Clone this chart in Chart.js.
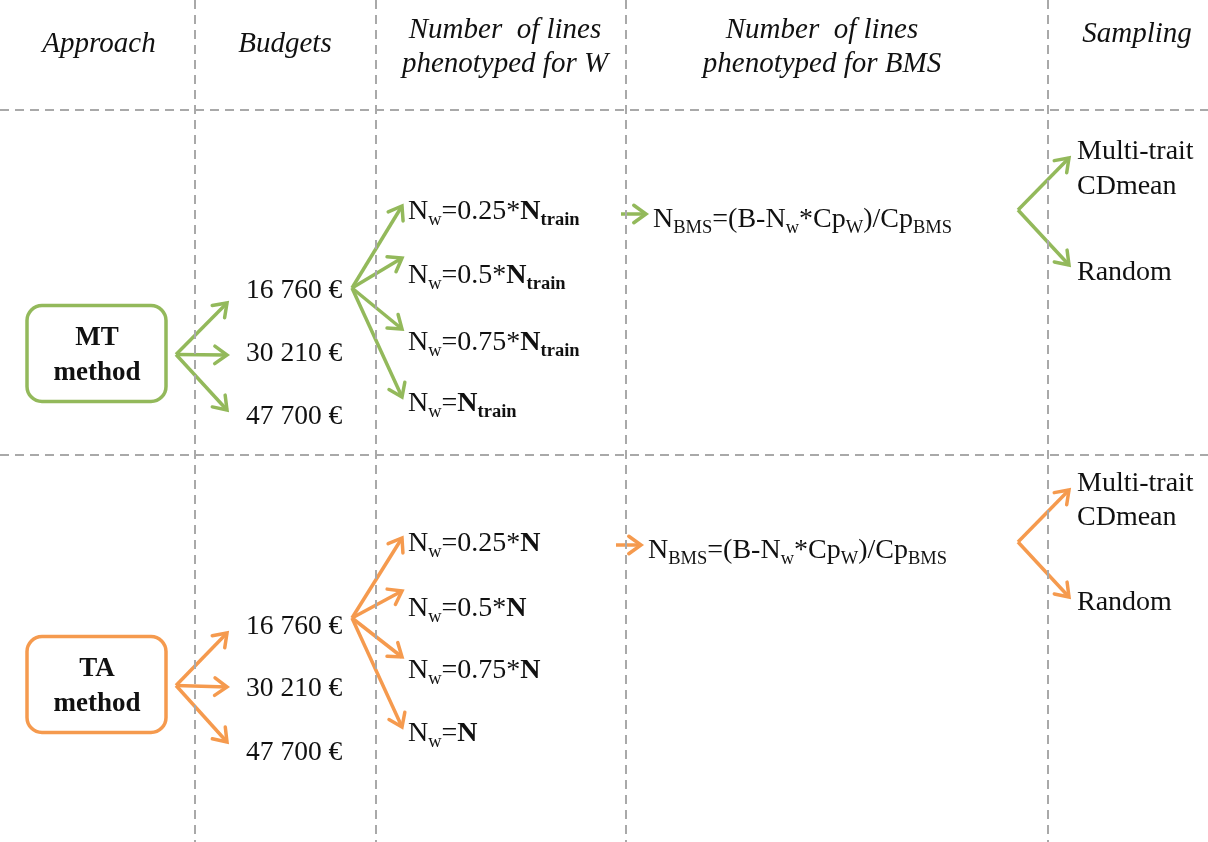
<!DOCTYPE html>
<html>
<head>
<meta charset="utf-8">
<script src="https://cdn.jsdelivr.net/npm/chart.js@4.4.1/dist/chart.umd.min.js"></script>
<style>
  html, body { margin: 0; padding: 0; background: #fff; }
  #wrap { width: 1208px; height: 842px; }
</style>
</head>
<body>
<div id="wrap"><canvas id="myChart"></canvas></div>
<script>
const W = 1208, H = 842;
const SERIF = '"Liberation Serif", "Times New Roman", serif';

// content
const headerTitles = [["Approach"], ["Budgets"], ["Number  of lines", "phenotyped for W"], ["Number  of lines", "phenotyped for BMS"], ["Sampling"]];
const approaches = ["MT", "TA"];
const approachColors = ["#93b95b", "#f59a4e"];
const budgets = ["16 760 €", "30 210 €", "47 700 €"];
const nwFractions = ["0.25*", "0.5*", "0.75*", ""];
const nwSubscript = ["train", ""];
const samplingLabels = [["Multi-trait", "CDmean"], ["Random"]];

// layout, in scale units (= reference pixels)
const dividerX = [195, 376, 626, 1048];
const dividerY = [110, 455];
const headerX = [99, 285, 505, 822, 1137];
const headerY = [[42], [42], [28, 62], [28, 62], [32]];
const boxY = [353.5, 684.5];
const approachTipY = [[303, 355, 410], [633, 687, 742]];
const budgetY = [[289, 352, 415], [625, 687, 751]];
const budgetOriginY = [288, 618];
const nwY = [[210, 274, 341, 402], [542, 607, 669, 732]];
const nwTipOff = [-4, -16, -12, -5];
const bmsY = [218, 549];
const bmsArrowX = [[621, 646], [616, 641]];
const samplingOriginY = [210, 542];
const samplingTipY = [[158, 265], [490, 597]];
const samplingY = [[[150, 185], [271]], [[482, 516], [601]]];

const dashStyle = { borderColor: "#a9a9a9", borderWidth: 2, borderDash: [9, 6] };

function seg(x1, y1, x2, y2, extra) {
  return Object.assign({
    type: "line",
    data: [{ x: x1, y: y1 }, { x: x2, y: y2 }],
    pointRadius: 0,
    fill: false,
    tension: 0,
  }, extra);
}

const datasets = [];
dividerX.forEach(x => datasets.push(seg(x, 0, x, H, dashStyle)));
dividerY.forEach(y => datasets.push(seg(0, y, W, y, dashStyle)));

const labels = [];
headerTitles.forEach((lines, i) => {
  lines.forEach((t, j) => labels.push({ x: headerX[i], y: headerY[i][j], align: "center", size: 29, segs: [{ t: t, i: 1 }] }));
});

approaches.forEach((name, k) => {
  const c = approachColors[k];
  const arrow = { borderColor: c, borderWidth: 3.5, arrow: true };
  const by = boxY[k];
  // approach -> budgets
  budgets.forEach((b, j) => {
    datasets.push(seg(176, by + 1, 227, approachTipY[k][j], arrow));
    labels.push({ x: 246, y: budgetY[k][j], align: "left", size: 27.5, segs: [{ t: b }] });
  });
  // first budget -> Nw choices
  nwFractions.forEach((f, j) => {
    datasets.push(seg(352, budgetOriginY[k], 402, nwY[k][j] + nwTipOff[j], arrow));
    const s = [{ t: "N" }, { t: "w", sub: 1 }, { t: "=" + f }, { t: "N", b: 1 }];
    if (nwSubscript[k]) s.push({ t: nwSubscript[k], b: 1, sub: 1 });
    labels.push({ x: 408, y: nwY[k][j], align: "left", size: 28, segs: s });
  });
  // Nw -> N_BMS
  datasets.push(seg(bmsArrowX[k][0], bmsY[k] - 4, bmsArrowX[k][1], bmsY[k] - 4, arrow));
  labels.push({ x: bmsArrowX[k][1] + 7, y: bmsY[k], align: "left", size: 28, segs: [
    { t: "N" }, { t: "BMS", sub: 1 }, { t: "=(B-N" }, { t: "w", sub: 1 }, { t: "*Cp" }, { t: "W", sub: 1 }, { t: ")/Cp" }, { t: "BMS", sub: 1 }
  ] });
  // sampling
  const sy = samplingY[k];
  samplingTipY[k].forEach(ty => datasets.push(seg(1018, samplingOriginY[k], 1069, ty, arrow)));
  samplingLabels.forEach((lines, j) => {
    lines.forEach((t, m) => labels.push({ x: 1077, y: sy[j][m], align: "left", size: 28, segs: [{ t: t }] }));
  });
  labels.push({ box: true, x: 96.5, y: by, w: 139, h: 96, color: c });
  labels.push({ x: 97, y: by - 17, align: "center", size: 27, segs: [{ t: name, b: 1 }] });
  labels.push({ x: 97, y: by + 18, align: "center", size: 27, segs: [{ t: "method", b: 1 }] });
});

function fontFor(s, size) {
  const sz = s.sub ? size * 0.66 : size;
  return (s.i ? "italic " : "") + (s.b ? "bold " : "") + sz.toFixed(1) + "px " + SERIF;
}

function drawRich(ctx, x, y, segs, align, size) {
  let total = 0;
  const widths = segs.map(s => { ctx.font = fontFor(s, size); const w = ctx.measureText(s.t).width; total += w; return w; });
  let cx = align === "center" ? x - total / 2 : x;
  const base = y + size * 0.33;
  segs.forEach((s, i) => {
    ctx.font = fontFor(s, size);
    ctx.fillText(s.t, cx, s.sub ? base + size * 0.2 : base);
    cx += widths[i];
  });
}

const diagramPlugin = {
  id: "diagram",
  afterDatasetsDraw(chart) {
    const ctx = chart.ctx;
    const xs = chart.scales.x, ys = chart.scales.y;
    ctx.save();
    chart.data.datasets.forEach((ds, i) => {
      if (!ds.arrow) return;
      const pts = chart.getDatasetMeta(i).data;
      const a = pts[0], b = pts[1];
      const ang = Math.atan2(b.y - a.y, b.x - a.x);
      const L = 15, th = 0.62;
      ctx.strokeStyle = ds.borderColor;
      ctx.lineWidth = ds.borderWidth;
      ctx.lineCap = "round";
      ctx.lineJoin = "miter";
      ctx.beginPath();
      ctx.moveTo(b.x - L * Math.cos(ang - th), b.y - L * Math.sin(ang - th));
      ctx.lineTo(b.x, b.y);
      ctx.lineTo(b.x - L * Math.cos(ang + th), b.y - L * Math.sin(ang + th));
      ctx.stroke();
    });
    ctx.fillStyle = "#111";
    ctx.textAlign = "left";
    ctx.textBaseline = "alphabetic";
    labels.forEach(l => {
      const px = xs.getPixelForValue(l.x), py = ys.getPixelForValue(l.y);
      if (l.box) {
        const w = xs.getPixelForValue(l.x + l.w / 2) - xs.getPixelForValue(l.x - l.w / 2);
        const h = Math.abs(ys.getPixelForValue(l.y + l.h / 2) - ys.getPixelForValue(l.y - l.h / 2));
        ctx.fillStyle = "#fff";
        ctx.strokeStyle = l.color;
        ctx.lineWidth = 3.5;
        ctx.beginPath();
        ctx.roundRect(px - w / 2, py - h / 2, w, h, 15);
        ctx.fill();
        ctx.stroke();
        ctx.fillStyle = "#111";
        return;
      }
      drawRich(ctx, px, py, l.segs, l.align, l.size);
    });
    ctx.restore();
  }
};

new Chart(document.getElementById("myChart").getContext("2d"), {
  type: "scatter",
  data: { datasets: datasets },
  options: {
    responsive: true,
    maintainAspectRatio: false,
    animation: false,
    layout: { padding: 0 },
    plugins: { legend: { display: false }, tooltip: { enabled: false } },
    scales: {
      x: { type: "linear", min: 0, max: W, display: false },
      y: { type: "linear", min: 0, max: H, reverse: true, display: false },
    },
  },
  plugins: [diagramPlugin],
});
</script>
</body>
</html>
